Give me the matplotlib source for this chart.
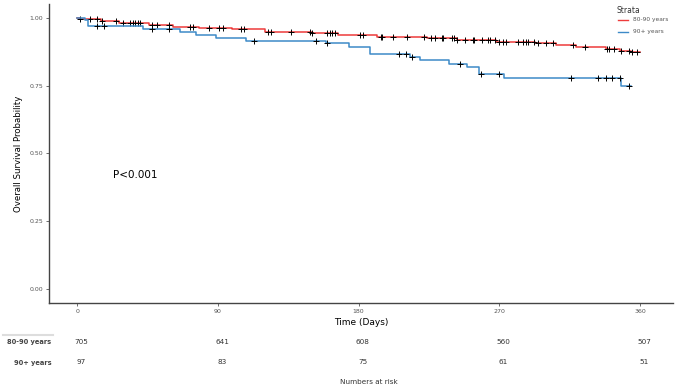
import numpy as np
import matplotlib
matplotlib.use("Agg")
import matplotlib.pyplot as plt

# ── data ─────────────────────────────────────────────────────────────────────
# 80-90 years: event times (days) and survival after each step
red_t = [0, 2, 15, 27, 46, 61, 78, 99, 120, 150, 167, 192, 224, 243, 268, 293,
         306, 319, 338, 347, 354]
red_s = [1.000, 0.997, 0.990, 0.981, 0.974, 0.968, 0.963, 0.959, 0.950, 0.944,
         0.938, 0.931, 0.925, 0.919, 0.913, 0.907, 0.900, 0.894, 0.884, 0.879,
         0.873]
red_end = 360
red_cens = [2, 8, 13, 16, 25, 29, 34, 36, 37, 39, 40, 48, 51, 59, 72, 74, 84,
            91, 93, 105, 107, 122, 124, 137, 149, 150, 160, 162, 163, 165, 181,
            183, 194, 195, 202, 211, 222, 226, 229, 233, 234, 240, 241, 243,
            248, 253, 254, 259, 263, 264, 267, 270, 272, 274, 282, 285, 287,
            288, 292, 295, 300, 304, 317, 325, 339, 340, 343, 348, 353, 355, 358]

# 90+ years
blue_t = [0, 5, 7, 42, 66, 76, 89, 108, 159, 174, 187, 213, 219, 238, 249, 257,
          273, 348]
blue_s = [1.000, 0.993, 0.972, 0.959, 0.947, 0.937, 0.925, 0.915, 0.907, 0.892,
          0.867, 0.855, 0.845, 0.830, 0.818, 0.792, 0.780, 0.748]
blue_end = 354
blue_cens = [13, 17, 48, 59, 113, 153, 160, 206, 210, 214, 245, 258, 270, 316,
             333, 338, 342, 347, 353]

groups = ["80-90 years", "90+ years"]
risk_times = [0, 90, 180, 270, 360]
risk_red = [705, 641, 608, 560, 507]
risk_blue = [97, 83, 75, 61, 51]

RED = "#ee3b3b"
BLUE = "#3d8ac8"


def surv_at(times, surv, x):
    idx = np.searchsorted(times, x, side="right") - 1
    return np.asarray(surv)[idx]


# ── figure ───────────────────────────────────────────────────────────────────
fig = plt.figure(figsize=(6.76, 3.87), dpi=100, facecolor="white")
ax = fig.add_axes([0.0725, 0.217, 0.923, 0.773])

for t, s, end, cens, col in [(red_t, red_s, red_end, red_cens, RED),
                             (blue_t, blue_s, blue_end, blue_cens, BLUE)]:
    ax.step(list(t) + [end], list(s) + [s[-1]], where="post", color=col, lw=1.1)
    ax.plot(cens, surv_at(t, s, cens), "+", color="black", ms=4, mew=0.7)

ax.set_xlim(-18, 381)
ax.set_ylim(-0.052, 1.052)
ax.set_xticks(risk_times)
ax.set_yticks([0, 0.25, 0.5, 0.75, 1.0])
ax.set_yticklabels(["0.00", "0.25", "0.50", "0.75", "1.00"])
ax.tick_params(labelsize=4.5, labelcolor="#555555", color="#555555",
               length=2, width=0.6, pad=2)
for side in ["top", "right"]:
    ax.spines[side].set_visible(False)
for side in ["left", "bottom"]:
    ax.spines[side].set_color("#444444")
    ax.spines[side].set_linewidth(1.0)

ax.set_ylabel("Overall Survival Probability", fontsize=6.2, labelpad=5)
ax.set_xlabel("Time (Days)", fontsize=6.5, labelpad=3)

ax.text(23, 0.42, "P<0.001", fontsize=7.5, va="center")

# legend
fig.text(0.912, 0.985, "Strata", fontsize=5.5, color="#333333", va="top")
for k, (g, col) in enumerate(zip(groups, [RED, BLUE])):
    y = 1 - (20 + k * 12) / 387
    fig.add_artist(plt.Line2D([0.914, 0.929], [y, y], color=col, lw=1.0,
                              transform=fig.transFigure))
    fig.text(0.936, y, g, fontsize=4.2, color="#555555", va="center")

# numbers at risk table
def xfig(day):
    return ax.transData.transform((day, 0))[0] / fig.bbox.width

for row, (g, vals) in enumerate(zip(groups, [risk_red, risk_blue])):
    y = 1 - (342 + row * 20.5) / 387
    fig.text(0.076, y, g, fontsize=4.8, color="#444444", ha="right",
             va="center", fontweight="bold")
    for day, v in zip(risk_times, vals):
        fig.text(xfig(day) + 0.006, y, str(v), fontsize=5.2, color="#333333",
                 ha="center", va="center")

fig.add_artist(plt.Line2D([0.005, 0.078], [1 - 335 / 387] * 2, color="#dddddd",
                          lw=1.5, transform=fig.transFigure))
fig.text(0.503, 1 - 382 / 387, "Numbers at risk", fontsize=5.2,
         color="#333333", va="center")

fig.savefig("out.png", dpi=100, facecolor="white")
